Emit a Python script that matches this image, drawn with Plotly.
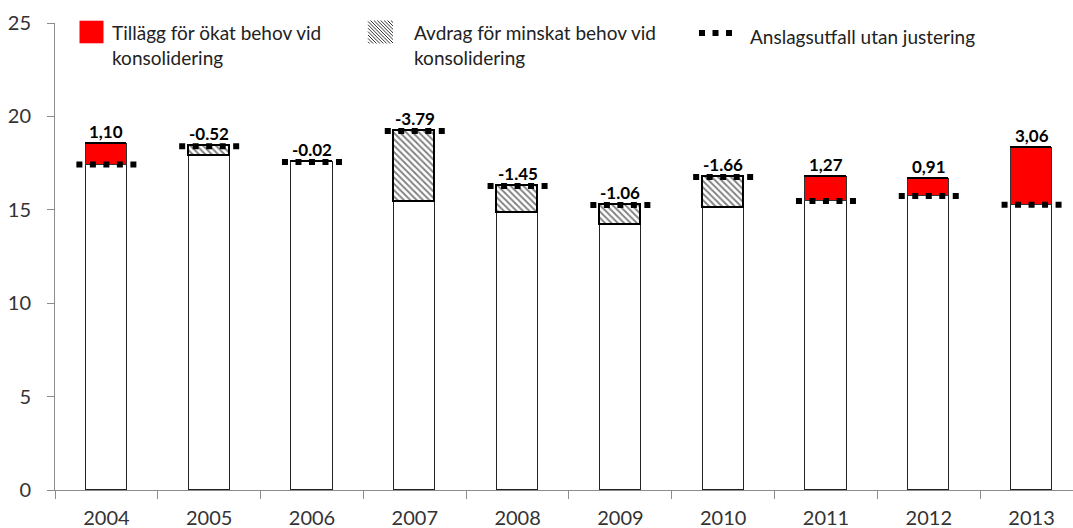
import plotly.graph_objects as go

# Data
years = ["2004", "2005", "2006", "2007", "2008", "2009", "2010", "2011", "2012", "2013"]
utfall_utan_justering = [17.42, 18.40, 17.56, 19.22, 16.27, 15.26, 16.76, 15.47, 15.74, 15.27]
justering = [1.10, -0.52, -0.02, -3.79, -1.45, -1.06, -1.66, 1.27, 0.91, 3.06]
justering_text = ["1,10", "-0.52", "-0.02", "-3.79", "-1.45", "-1.06", "-1.66", "1,27", "0,91", "3,06"]
y_ticks = [0, 5, 10, 15, 20, 25]

legend_tillagg = "Tillägg för ökat behov vid<br>konsolidering"
legend_avdrag = "Avdrag för minskat behov vid<br>konsolidering"
legend_utfall = "Anslagsutfall utan justering"

FONT = "Lato"
W, H = 1073, 528
ML, MR, MT, MB = 55, 0, 23, 38

n = len(years)
xi = list(range(n))
base = [u + min(j, 0) for u, j in zip(utfall_utan_justering, justering)]
tillagg = [max(j, 0) for j in justering]
avdrag = [max(-j, 0) for j in justering]
top = [max(u, u + j) for u, j in zip(utfall_utan_justering, justering)]

fig = go.Figure()
bar_w = 0.40
fig.add_trace(go.Bar(x=xi, y=base, width=bar_w, marker=dict(color="white", line=dict(color="#222", width=1)),
                     hoverinfo="skip"))
fig.add_trace(go.Bar(x=xi, y=tillagg, width=bar_w, marker=dict(color="#FF0000", line=dict(color="#333", width=1)),
                     hoverinfo="skip"))
fig.add_trace(go.Bar(x=xi, y=avdrag, width=bar_w,
                     marker=dict(color="white", line=dict(color="black", width=1.8),
                                 pattern=dict(shape="\\", size=4.5, solidity=0.4, fgcolor="black", bgcolor="white")),
                     hoverinfo="skip"))

# dotted level markers: one short segment per year
half = 0.292
dx, dy = [], []
for i, v in zip(xi, utfall_utan_justering):
    dx += [i - half, i + half, None]
    dy += [v, v, None]
fig.add_trace(go.Scatter(x=dx, y=dy, mode="lines", line=dict(color="black", width=6, dash="6px,7.5px"),
                         hoverinfo="skip"))

# value labels
for i, t, txt in zip(xi, top, justering_text):
    fig.add_annotation(x=i, y=t, text=f"<b>{txt}</b>", showarrow=False, yanchor="bottom", yshift=0,
                       font=dict(family=FONT, size=17, color="black"))

# legend drawn in the top strip
pw = W - ML - MR
ph = H - MT - MB


def px_x(p):
    return (p - ML) / pw


def px_y(p):
    return (H - MB - p) / ph


fig.add_shape(type="rect", xref="paper", yref="paper", x0=px_x(79.5), x1=px_x(103.5), y0=px_y(43.3), y1=px_y(20.7),
              fillcolor="#FF0000", line=dict(width=0))
fig.add_annotation(xref="paper", yref="paper", x=px_x(110), y=px_y(19), xanchor="left", yanchor="top",
                   text=legend_tillagg, showarrow=False, align="left",
                   font=dict(family=FONT, size=19, color="#222"))

# hatch swatch
hw, hh, step = 25.0, 23.0, 3.4
segs = []
c = step / 2
while c < hw + hh:
    x1, y1 = (0.0, c) if c <= hh else (c - hh, hh)
    x2, y2 = (c, 0.0) if c <= hw else (hw, c - hw)
    segs.append(f"M{x1:.2f},{y1:.2f} L{x2:.2f},{y2:.2f}")
    c += step
fig.add_shape(type="path", xref="paper", yref="paper", xsizemode="pixel", ysizemode="pixel",
              xanchor=px_x(368), yanchor=px_y(43.5), path=" ".join(segs), line=dict(color="#333", width=1))
fig.add_annotation(xref="paper", yref="paper", x=px_x(412), y=px_y(19), xanchor="left", yanchor="top",
                   text=legend_avdrag, showarrow=False, align="left",
                   font=dict(family=FONT, size=19, color="#222"))

fig.add_shape(type="line", xref="paper", yref="paper", x0=px_x(699), x1=px_x(732), y0=px_y(33), y1=px_y(33),
              line=dict(color="black", width=6, dash="6px,7.5px"))
fig.add_annotation(xref="paper", yref="paper", x=px_x(748), y=px_y(23), xanchor="left", yanchor="top",
                   text=legend_utfall, showarrow=False, align="left",
                   font=dict(family=FONT, size=19, color="#222"))

fig.update_layout(
    width=W, height=H, barmode="stack", showlegend=False,
    margin=dict(l=ML, r=MR, t=MT, b=MB, pad=0),
    plot_bgcolor="white", paper_bgcolor="white",
    font=dict(family=FONT, size=20, color="#333"),
    bargap=0,
)
fig.update_xaxes(range=[-0.5, 9.403], tickvals=xi, ticktext=years, ticks="", showgrid=False, zeroline=False,
                 showline=True, linecolor="#8c8c8c", linewidth=1, ticklabelstandoff=10,
                 tickfont=dict(family=FONT, size=20, color="#333"),
                 minor=dict(tick0=0.5, dtick=1, ticks="outside", ticklen=8, tickcolor="#8c8c8c", showgrid=False))
fig.update_yaxes(range=[0, 25], tickvals=y_ticks, ticks="outside", ticklen=7, tickcolor="#8c8c8c",
                 showgrid=False, zeroline=False, showline=True, linecolor="#8c8c8c", linewidth=1,
                 ticklabelstandoff=12, tickfont=dict(family=FONT, size=20, color="#333"))

fig.write_html("out.html")
